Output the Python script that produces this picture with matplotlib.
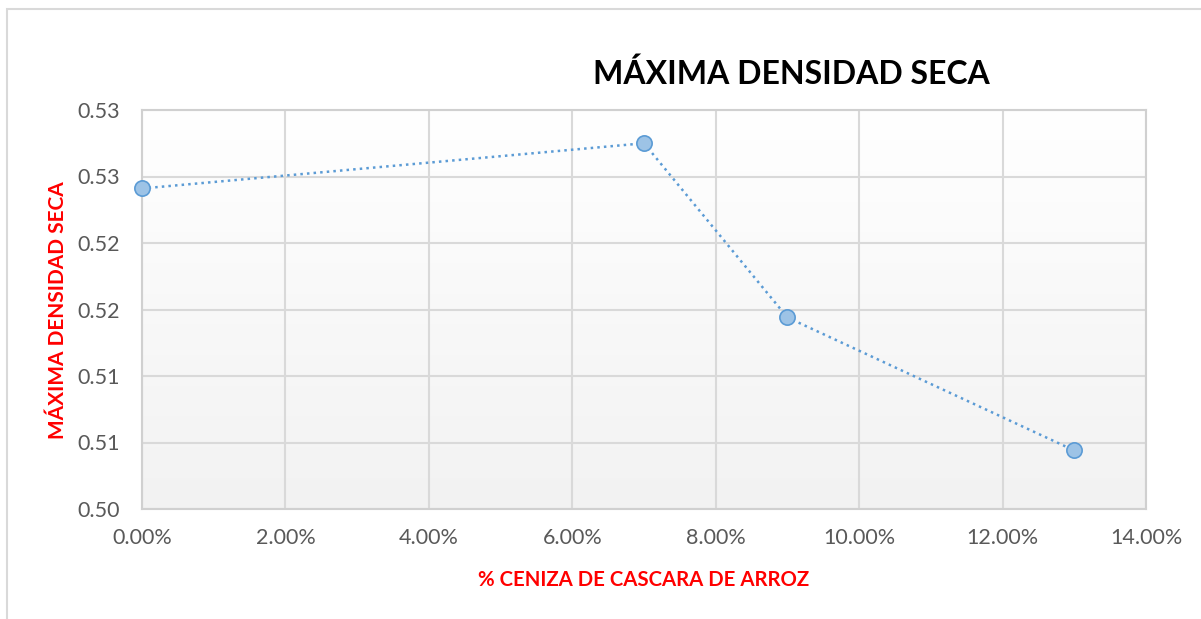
import matplotlib.pyplot as plt
import numpy as np
from matplotlib.ticker import FuncFormatter
from matplotlib.patches import Rectangle
from matplotlib.colors import LinearSegmentedColormap

# data
ceniza = [0.0, 7.0, 9.0, 13.0]          # % ceniza de cascara de arroz
densidad = [0.5241, 0.5275, 0.5144, 0.5044]

x_ticks = [0, 2, 4, 6, 8, 10, 12, 14]
y_ticks = [0.500, 0.505, 0.510, 0.515, 0.520, 0.525, 0.530]

plt.rcParams['font.family'] = ['Lato', 'DejaVu Sans']

fig = plt.figure(figsize=(12.01, 6.19), dpi=100)
fig.patch.set_facecolor('white')
# borde del area del grafico
fig.patches.append(Rectangle((7 / 1201, -0.01), 1.02, 1 - 9 / 619 + 0.01,
                             transform=fig.transFigure, fill=False,
                             edgecolor='#d9d9d9', linewidth=1.5))

ax = fig.add_axes([142 / 1201, 110 / 619, 1004 / 1201, 399 / 619])

# fondo degradado del area de trazado
grad = np.linspace(1, 0, 256).reshape(-1, 1)
ax.imshow(grad, extent=[0, 1, 0, 1], transform=ax.transAxes, aspect='auto',
          cmap=LinearSegmentedColormap.from_list('g', ['#f2f2f2', '#ffffff']),
          zorder=0)

ax.set_xlim(0, 14)
ax.set_ylim(0.500, 0.530)
ax.set_xticks(x_ticks)
ax.set_yticks(y_ticks)
ax.xaxis.set_major_formatter(FuncFormatter(lambda v, p: f'{v:.2f}%'))
ax.yaxis.set_major_formatter(FuncFormatter(lambda v, p: f'{v + 1e-9:.2f}'))
ax.grid(True, color='#d9d9d9', linewidth=1.5, zorder=1)
ax.set_axisbelow(True)
for s in ax.spines.values():
    s.set_color('#d0d0d0')
    s.set_linewidth(1.5)
ax.tick_params(axis='y', length=0, labelsize=15.5, labelcolor='#595959', pad=16)
ax.tick_params(axis='x', length=0, labelsize=15.5, labelcolor='#595959', pad=14)

ax.plot(ceniza, densidad, linestyle=':', color='#5b9bd5', linewidth=1.8,
        marker='o', markersize=11, markerfacecolor='#9dc3e6',
        markeredgecolor='#5b9bd5', markeredgewidth=1.2, zorder=3,
        clip_on=False)

fig.text(791 / 1201, 1 - 74 / 619, 'MÁXIMA DENSIDAD SECA', ha='center',
         va='center', fontsize=23, fontweight='bold', color='black')
fig.text(644 / 1201, 1 - 580 / 619, '% CENIZA DE CASCARA DE ARROZ',
         ha='center', va='center', fontsize=14.7, fontweight='bold', color='red')
fig.text(58 / 1201, 1 - 310 / 619, 'MÁXIMA DENSIDAD SECA', ha='center',
         va='center', rotation=90, fontsize=15, fontweight='bold', color='red')

plt.savefig('out.png', dpi=100)
plt.close()
